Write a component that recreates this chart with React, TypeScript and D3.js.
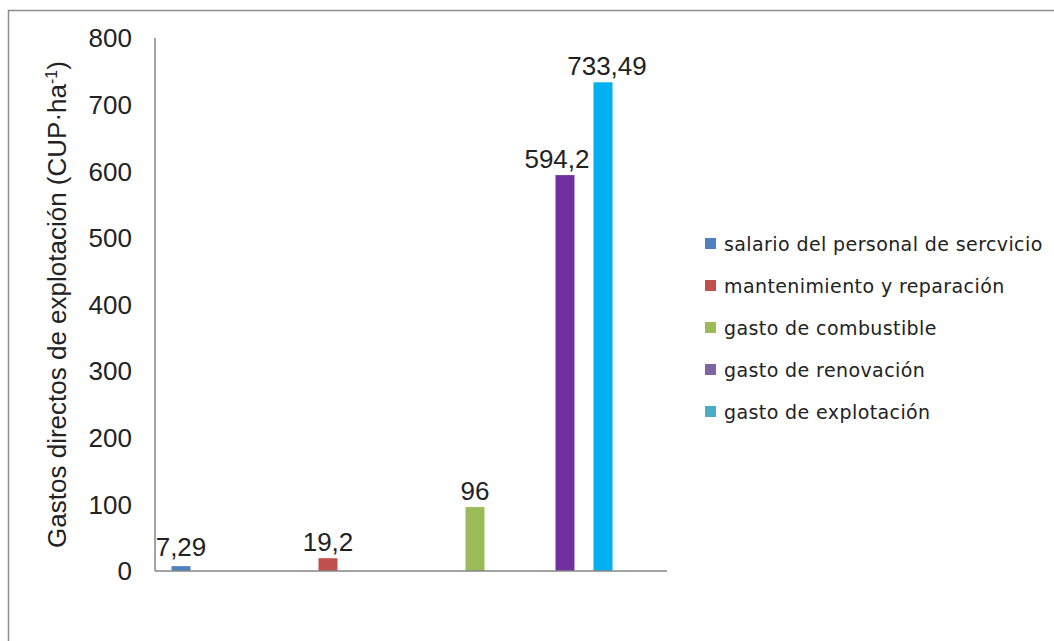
import React from "react";
import * as d3 from "d3";

const seriesNames = [
  "salario del personal de sercvicio",
  "mantenimiento y reparación",
  "gasto de combustible",
  "gasto de renovación",
  "gasto de explotación",
];
const seriesValues = [7.29, 19.2, 96, 594.2, 733.49];
const valueLabels = ["7,29", "19,2", "96", "594,2", "733,49"];
// category group (0..3) and slot within the group for each series
const seriesGroup = [0, 1, 2, 3, 3];
const seriesSlot = [0, 1, 2, 0, 2];
const groups = [0, 1, 2, 3];
const slots = [0, 1, 2, 3, 4];
const yTicks = [0, 100, 200, 300, 400, 500, 600, 700, 800];

const barColors = ["#4F81BD", "#C0504D", "#9BBB59", "#7030A0", "#00B0F0"];
const legendColors = ["#4F81BD", "#C0504D", "#9BBB59", "#8064A2", "#4BACC6"];
const labelNudge = [0, 0, 0, -8, 4];

export default function App() {
  const W = 1054;
  const H = 641;
  const left = 155;
  const right = 667;
  const top = 38;
  const bottom = 571;

  const y = d3.scaleLinear().domain([0, 800]).range([bottom, top]);
  const x0 = d3.scaleBand<number>().domain(groups).range([left, right]).paddingInner(0).paddingOuter(0);
  const x1 = d3
    .scaleBand<number>()
    .domain(slots)
    .range([0, x0.bandwidth()])
    .paddingInner(0)
    .paddingOuter(0.868);

  const arial = "'Liberation Sans', Arial, sans-serif";
  const legendFont = "'DejaVu Sans', Verdana, sans-serif";

  return (
    <svg
      width={W}
      height={H}
      style={{ position: "absolute", left: 0, top: 0, background: "#fff" }}
    >
      <rect x={8.5} y={10.5} width={W + 20} height={H + 20} fill="#fff" stroke="#8c8c8c" strokeWidth={1.5} />

      {/* y tick labels */}
      {yTicks.map((t) => (
        <text
          key={t}
          x={132}
          y={y(t)}
          dy="0.36em"
          textAnchor="end"
          fontFamily={arial}
          fontSize={26}
          fill="#222"
        >
          {t}
        </text>
      ))}

      {/* y axis title */}
      <text
        transform={`translate(66,${(top + bottom) / 2}) rotate(-90)`}
        textAnchor="middle"
        fontFamily={arial}
        fontSize={26}
        fill="#222"
      >
        Gastos directos de explotación (CUP·ha
        <tspan dy={-9} fontSize={16}>-1</tspan>
        <tspan dy={9}>)</tspan>
      </text>

      {/* bars */}
      {seriesValues.map((v, i) => {
        const bx = (x0(seriesGroup[i]) as number) + (x1(seriesSlot[i]) as number);
        const bw = x1.bandwidth();
        return (
          <rect
            key={i}
            x={bx}
            y={y(v)}
            width={bw}
            height={y(0) - y(v)}
            fill={barColors[i]}
          />
        );
      })}

      {/* axes */}
      <line x1={left} x2={left} y1={top} y2={bottom} stroke="#868686" strokeWidth={1.5} />
      <line x1={left} x2={right} y1={bottom} y2={bottom} stroke="#868686" strokeWidth={1.5} />

      {/* value labels */}
      {seriesValues.map((v, i) => {
        const cx = (x0(seriesGroup[i]) as number) + (x1(seriesSlot[i]) as number) + x1.bandwidth() / 2;
        const by = Math.min(y(v) - 7, 556);
        return (
          <text
            key={i}
            x={cx + labelNudge[i]}
            y={by}
            textAnchor="middle"
            fontFamily={arial}
            fontSize={26}
            fill="#222"
          >
            {valueLabels[i]}
          </text>
        );
      })}

      {/* legend */}
      {seriesNames.map((n, i) => {
        const ly = 244 + i * 42;
        return (
          <g key={n}>
            <rect x={705} y={ly - 6} width={11} height={11} fill={legendColors[i]} />
            <text
              x={724}
              y={ly}
              dy="0.36em"
              fontFamily={legendFont}
              fontSize={19}
              letterSpacing={0.4}
              fill="#222"
            >
              {n}
            </text>
          </g>
        );
      })}
    </svg>
  );
}
